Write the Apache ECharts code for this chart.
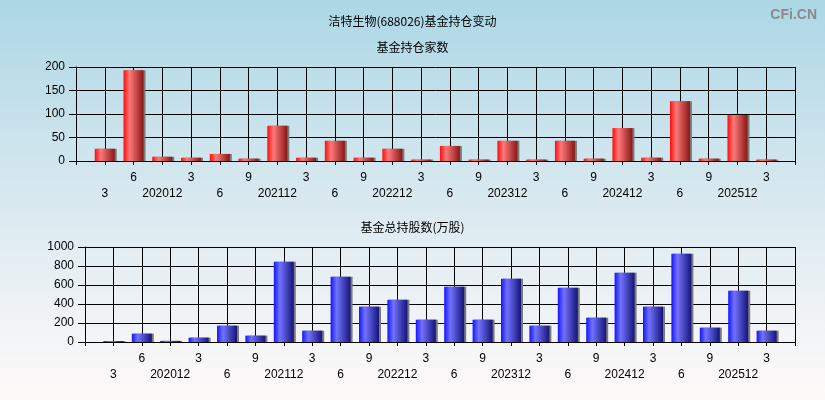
<!DOCTYPE html>
<html>
<head>
<meta charset="utf-8">
<style>html,body{margin:0;padding:0;}#c{width:825px;height:400px;}</style>
<script src="https://cdn.jsdelivr.net/npm/echarts@6/dist/echarts.min.js"></script>
</head>
<body>
<div id="c"></div>
<script>
const quarters = ['202003','202006','202012','202103','202106','202109','202112','202203','202206','202209','202212','202303','202306','202309','202312','202403','202406','202409','202412','202503','202506','202509','202512','202603'];
const fundCount = [26,193,9,7,15,5,75,7,43,7,26,3,32,3,43,3,43,5,70,7,127,5,98,3];
const fundShares = [10,88,12,46,172,67,846,119,688,372,446,235,582,235,667,172,572,256,730,372,930,151,540,119];
const countTicks = {min:0, max:200, interval:50};
const shareTicks = {min:0, max:1000, interval:200};

const cats = [''].concat(quarters).concat(['']);
const pad = arr => ['-'].concat(arr).concat(['-']);

function labelFmt(v, idx) {
  if (!v) return '';
  const m = v.slice(4);
  const txt = m === '12' ? v : String(parseInt(m, 10));
  const i = idx - 1;
  return i % 2 === 0 ? '\n' + txt : txt;
}

const font = 'Arial, "Liberation Sans", sans-serif';
const cjk = '"Noto Sans CJK SC", sans-serif';

function xAxis(gi) {
  return {
    type:'category', gridIndex:gi, data:cats, boundaryGap:false,
    axisLine:{lineStyle:{color:'#000', width:1}},
    axisTick:{show:true, interval:0, length:4, lineStyle:{color:'#000'}},
    axisLabel:{interval:0, formatter:labelFmt, color:'#000', fontSize:12, fontFamily:font, lineHeight:16, margin:9, verticalAlign:'top'},
    splitLine:{show:true, interval:0, lineStyle:{color:'#000', width:1}}
  };
}
function yAxis(gi, t) {
  return {
    type:'value', gridIndex:gi, min:t.min, max:t.max, interval:t.interval,
    axisLine:{show:true, lineStyle:{color:'#000'}},
    axisTick:{show:true, length:7, lineStyle:{color:'#000'}},
    axisLabel:{color:'#000', fontSize:12, fontFamily:font, margin:11, formatter:v => String(v)},
    splitLine:{show:true, lineStyle:{color:'#000', width:1}}
  };
}
function grad(c0, c1, c2) {
  return new echarts.graphic.LinearGradient(0,0,1,0,[
    {offset:0, color:c0},{offset:0.3, color:c1},{offset:1, color:c2}]);
}

const chart = echarts.init(document.getElementById('c'), null, {renderer:'canvas'});
chart.setOption({
  animation:false,
  backgroundColor: new echarts.graphic.LinearGradient(0,0,0,1,[
    {offset:0, color:'#acd7e5'},{offset:0.5, color:'#d9e9f0'},{offset:1, color:'#fffafa'}]),
  title:[
    {text:'洁特生物(688026)基金持仓变动', left:'center', top:10, textStyle:{fontSize:12, fontWeight:'normal', color:'#000', fontFamily:cjk}},
    {text:'基金持仓家数', left:'center', top:36, textStyle:{fontSize:12, fontWeight:'normal', color:'#000', fontFamily:cjk}},
    {text:'基金总持股数(万股)', left:'center', top:216, textStyle:{fontSize:12, fontWeight:'normal', color:'#000', fontFamily:cjk}},
    {text:'CFi.CN', right:3, top:3, textStyle:{fontSize:14, fontWeight:'bold', color:'#8a8a8a', fontFamily:font}}
  ],
  grid:[
    {left:76, right:30, top:67, height:94},
    {left:85, right:30, top:247, height:95}
  ],
  xAxis:[xAxis(0), xAxis(1)],
  yAxis:[yAxis(0, countTicks), yAxis(1, shareTicks)],
  series:[
    {type:'bar', xAxisIndex:0, yAxisIndex:0, data:pad(fundCount), barWidth:20,
     itemStyle:{color:grad('#ff0a0a','#ff7a7a','#8a1616'), shadowColor:'#7a7a7a', shadowOffsetX:2, shadowBlur:0}},
    {type:'bar', xAxisIndex:1, yAxisIndex:1, data:pad(fundShares), barWidth:20,
     itemStyle:{color:grad('#1414ff','#7272ff','#14147a'), shadowColor:'#7a7a7a', shadowOffsetX:2, shadowBlur:0}}
  ]
});
</script>
</body>
</html>
